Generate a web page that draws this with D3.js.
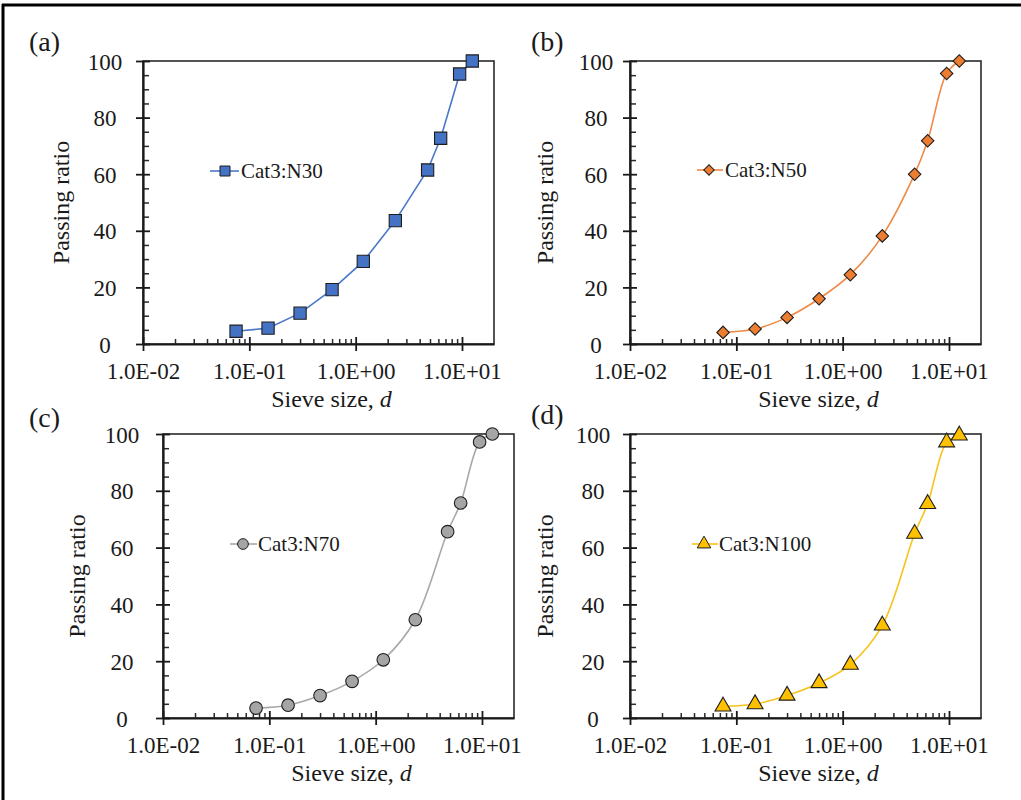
<!DOCTYPE html>
<html>
<head>
<meta charset="utf-8">
<script src="https://cdn.jsdelivr.net/npm/d3@7"></script>
<style>
  html, body { margin: 0; padding: 0; background: #fff; }
  svg { display: block; }
  svg text { font-family: "Liberation Serif", "DejaVu Serif", serif !important; fill: #1a1a1a; }
</style>
</head>
<body>
<svg id="chart" width="1021" height="800" font-family="Liberation Serif"></svg>
<script>
// ---------------- data ----------------
const sieveSizes = [0.075, 0.15, 0.3, 0.6, 1.18, 2.36, 4.75, 6.3, 9.5, 12.5];
const passingN30  = [4.5, 5.6, 10.9, 19.2, 29.2, 43.6, 61.5, 72.7, 95.4, 100];
const passingN50  = [4.1, 5.3, 9.4, 16.0, 24.5, 38.2, 60.0, 71.8, 95.6, 100];
const passingN70  = [3.5, 4.5, 7.9, 12.9, 20.5, 34.6, 65.6, 75.7, 97.2, 100];
const passingN100 = [4.1, 4.9, 7.9, 12.3, 18.8, 32.6, 64.9, 75.4, 97.1, 99.5];
const seriesNames = ["Cat3:N30", "Cat3:N50", "Cat3:N70", "Cat3:N100"];
const panelLabels = ["(a)", "(b)", "(c)", "(d)"];
const xTickValues = [0.01, 0.1, 1, 10];
const xTickLabels = ["1.0E-02", "1.0E-01", "1.0E+00", "1.0E+01"];
const yTickValues = [0, 20, 40, 60, 80, 100];
const xDomain = [0.01, 20];
const yDomain = [0, 100];
const xTitle = "Sieve size, ";
const xTitleItalic = "d";
const yTitle = "Passing ratio";

// ---------------- layout / style ----------------
const FONT = "Liberation Serif";
const panels = [
  { values: passingN30,  name: seriesNames[0], label: panelLabels[0],
    left: 143, top: 61, width: 351, height: 283, color: "#4472C4", line: "#4A78C8",
    shape: "square", smooth: false, labelXY: [29, 51], yLabOff: 38, yTitleX: 62,
    legend: { x0: 210, x1: 239, mx: 225, tx: 241, y: 171 } },
  { values: passingN50,  name: seriesNames[1], label: panelLabels[1],
    left: 630, top: 61, width: 351, height: 283, color: "#ED7D31", line: "#EE8A48",
    shape: "diamond", smooth: true, labelXY: [531, 51], yLabOff: 34, yTitleX: 546,
    legend: { x0: 697, x1: 723, mx: 709, tx: 725, y: 170 } },
  { values: passingN70,  name: seriesNames[2], label: panelLabels[2],
    left: 163, top: 434, width: 351, height: 284, color: "#A5A5A5", line: "#A8A8A8",
    shape: "circle", smooth: true, labelXY: [29, 427], yLabOff: 41, yTitleX: 78,
    legend: { x0: 230, x1: 257, mx: 243, tx: 258, y: 544 } },
  { values: passingN100, name: seriesNames[3], label: panelLabels[3],
    left: 630, top: 434, width: 351, height: 284, color: "#FFC000", line: "#F7C21A",
    shape: "triangle", smooth: true, labelXY: [531, 424], yLabOff: 37, yTitleX: 546,
    legend: { x0: 692, x1: 718, mx: 704, tx: 719, y: 544 } }
];

const svg = d3.select("#chart");
svg.append("rect").attr("width", 1021).attr("height", 800).attr("fill", "#fff");

// outer frame (top and left edges)
svg.append("line").attr("x1", 2).attr("y1", 5).attr("x2", 1021).attr("y2", 5)
  .attr("stroke", "#000").attr("stroke-width", 3);
svg.append("line").attr("x1", 3).attr("y1", 4).attr("x2", 3).attr("y2", 800)
  .attr("stroke", "#000").attr("stroke-width", 3);

function markerPath(shape, size) {
  const map = { square: d3.symbolSquare, diamond: d3.symbolSquare, circle: d3.symbolCircle, triangle: d3.symbolTriangle };
  return d3.symbol().type(map[shape]).size(size)();
}
const markerRot = { square: 0, diamond: 45, circle: 0, triangle: 0 };
const markerSize = { square: 150, diamond: 78, circle: 125, triangle: 110 };
const legendSize = { square: 100, diamond: 55, circle: 90, triangle: 80 };

panels.forEach(p => {
  const bottom = p.top + p.height, right = p.left + p.width;
  const x = d3.scaleLog().domain(xDomain).range([p.left, right]);
  const y = d3.scaleLinear().domain(yDomain).range([bottom, p.top]);
  const g = svg.append("g");

  // plot box top/right
  g.append("rect").attr("x", p.left).attr("y", p.top).attr("width", p.width).attr("height", p.height)
    .attr("fill", "none").attr("stroke", "#2a2a2a").attr("stroke-width", 1.6);

  // minor y ticks (inside)
  const yMinor = y.ticks(25).filter(v => yTickValues.indexOf(v) < 0);
  g.append("g").attr("transform", `translate(${p.left},0)`)
    .call(d3.axisRight(y).tickValues(yMinor).tickSize(6).tickFormat(""))
    .call(a => a.select(".domain").remove())
    .call(a => a.selectAll("line").attr("stroke", "#2a2a2a").attr("stroke-width", 1.5));

  // major y axis
  const yAx = g.append("g").attr("transform", `translate(${p.left},0)`)
    .call(d3.axisLeft(y).tickValues(yTickValues).tickSize(7).tickSizeOuter(0))
    .attr("font-family", FONT).attr("font-size", 23);
  yAx.select(".domain").attr("stroke", "#1a1a1a").attr("stroke-width", 2.2);
  yAx.selectAll("line").attr("x1", 7).attr("stroke", "#1a1a1a").attr("stroke-width", 1.8);
  yAx.selectAll("text").attr("x", -p.yLabOff).attr("text-anchor", "middle")
    .attr("dy", "0.35em").attr("fill", "#1a1a1a");

  // minor x ticks (inside)
  const xMinor = x.ticks().filter(v => v < 10 && xTickValues.indexOf(v) < 0 && v > xDomain[0]);
  g.append("g").attr("transform", `translate(0,${bottom})`)
    .call(d3.axisTop(x).tickValues(xMinor).tickSize(5).tickFormat(""))
    .call(a => a.select(".domain").remove())
    .call(a => a.selectAll("line").attr("stroke", "#2a2a2a").attr("stroke-width", 1.5));

  // major x axis
  const xAx = g.append("g").attr("transform", `translate(0,${bottom})`)
    .call(d3.axisBottom(x).tickValues(xTickValues).tickFormat((d, i) => xTickLabels[i]).tickSize(7).tickSizeOuter(0))
    .attr("font-family", FONT).attr("font-size", 23);
  xAx.select(".domain").attr("stroke", "#1a1a1a").attr("stroke-width", 2.2);
  xAx.selectAll("line").attr("y1", -7).attr("stroke", "#1a1a1a").attr("stroke-width", 1.8);
  xAx.selectAll("text").attr("y", 35).attr("dy", 0).attr("fill", "#1a1a1a");

  // axis titles
  const xt = g.append("text").attr("x", (p.left + right) / 2 + 13).attr("y", bottom + 63)
    .attr("text-anchor", "middle").attr("font-family", FONT).attr("font-size", 24);
  xt.append("tspan").text(xTitle);
  xt.append("tspan").attr("font-style", "italic").text(xTitleItalic);

  g.append("text")
    .attr("transform", `translate(${p.yTitleX},${(p.top + bottom) / 2}) rotate(-90)`)
    .attr("text-anchor", "middle").attr("dy", "0.3em")
    .attr("font-family", FONT).attr("font-size", 24).text(yTitle);

  // panel label
  g.append("text").attr("x", p.labelXY[0]).attr("y", p.labelXY[1])
    .attr("font-family", FONT).attr("font-size", 28).text(p.label);

  // series line
  const pts = sieveSizes.map((s, i) => [s, p.values[i]]);
  const line = d3.line().x(d => x(d[0])).y(d => y(d[1]))
    .curve(p.smooth ? d3.curveCatmullRom.alpha(0.5) : d3.curveLinear);
  g.append("path").attr("d", line(pts)).attr("fill", "none")
    .attr("stroke", p.line).attr("stroke-width", 1.6);

  // markers
  g.selectAll(".mk").data(pts).join("path").attr("class", "mk")
    .attr("d", markerPath(p.shape, markerSize[p.shape]))
    .attr("transform", d => `translate(${x(d[0])},${y(d[1])}) rotate(${markerRot[p.shape]})`)
    .attr("fill", p.color).attr("stroke", "#1e1e1e").attr("stroke-width", 1.1);

  // legend
  const L = p.legend;
  g.append("line").attr("x1", L.x0).attr("x2", L.x1).attr("y1", L.y).attr("y2", L.y)
    .attr("stroke", p.line).attr("stroke-width", 1.6);
  g.append("path").attr("d", markerPath(p.shape, legendSize[p.shape]))
    .attr("transform", `translate(${L.mx},${L.y}) rotate(${markerRot[p.shape]})`)
    .attr("fill", p.color).attr("stroke", "#1e1e1e").attr("stroke-width", 1);
  g.append("text").attr("x", L.tx).attr("y", L.y).attr("dy", "0.35em")
    .attr("font-family", FONT).attr("font-size", 21).text(p.name);
});
</script>
</body>
</html>
